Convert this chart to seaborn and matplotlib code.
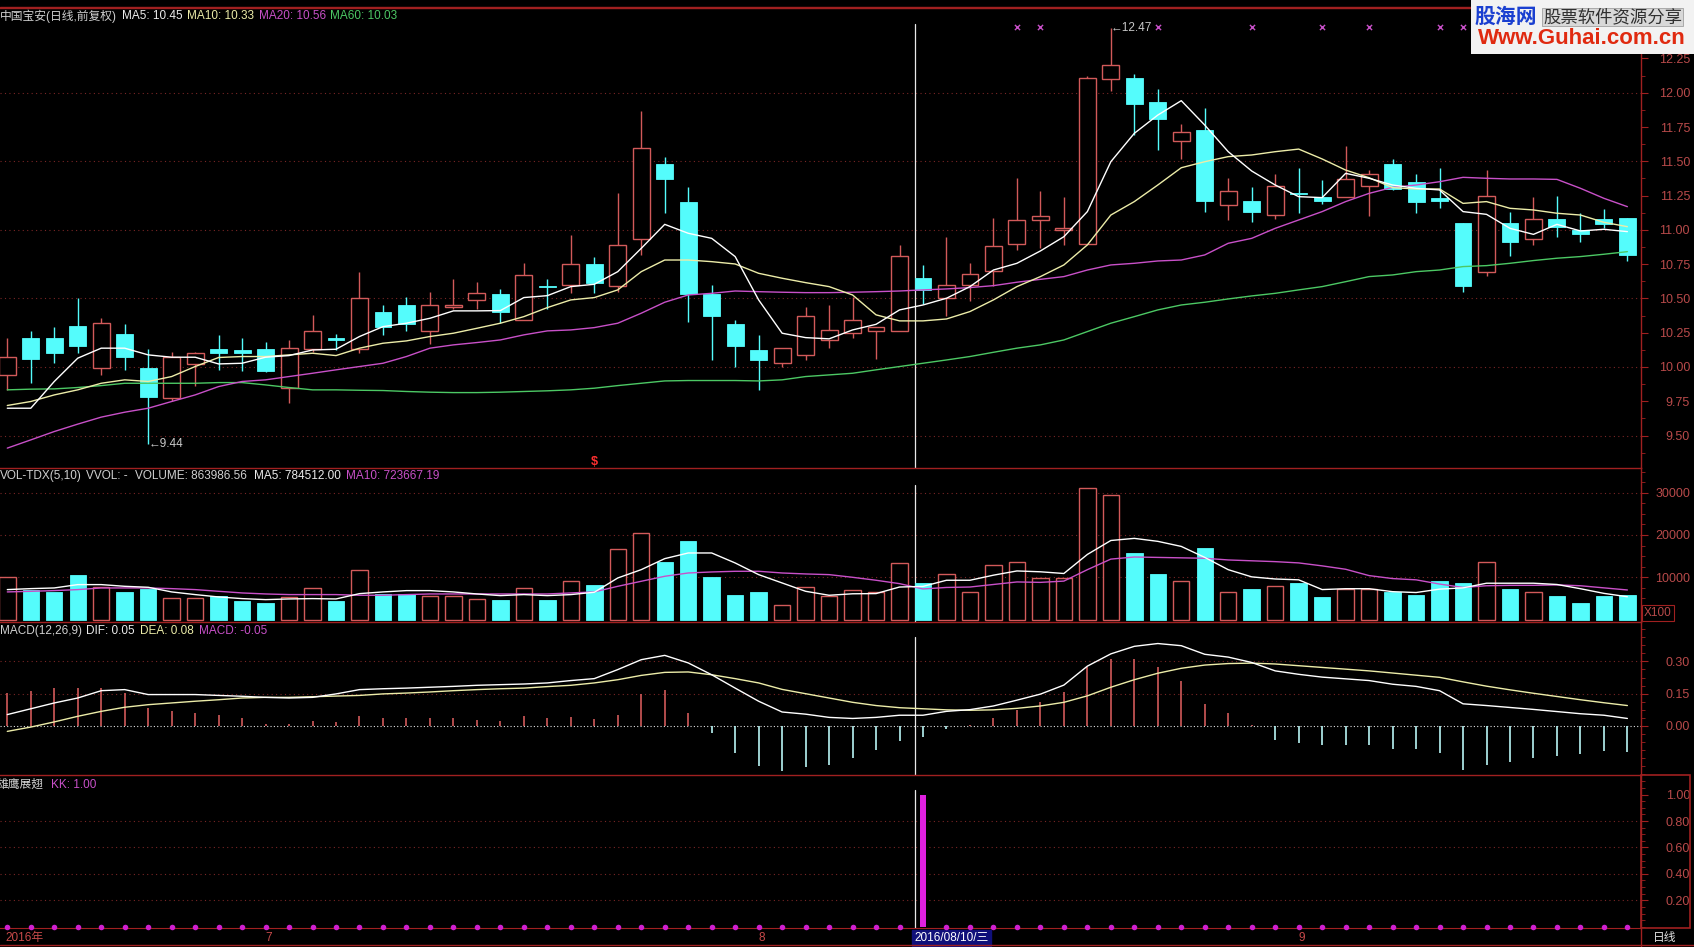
import matplotlib
matplotlib.use('Agg')
import matplotlib.pyplot as plt
import matplotlib.transforms as mtransforms
from matplotlib.patches import Rectangle
from matplotlib.lines import Line2D
from matplotlib.ticker import MultipleLocator
import numpy as np
import seaborn as sns

# ---- daily candles (中国宝安, 70 trading days) ----
opens = [9.94, 10.21, 10.21, 10.30, 9.99, 10.24, 9.99, 9.77, 10.02, 10.13,
         10.12, 10.13, 9.85, 10.13, 10.21, 10.13, 10.40, 10.45, 10.26, 10.44,
         10.49, 10.53, 10.34, 10.59, 10.60, 10.75, 10.59, 10.93, 11.48, 11.20,
         10.53, 10.31, 10.12, 10.03, 10.09, 10.20, 10.25, 10.26, 10.26, 10.65,
         10.50, 10.60, 10.70, 10.90, 11.07, 11.00, 10.90, 12.10, 12.11, 11.93,
         11.65, 11.73, 11.18, 11.21, 11.11, 11.27, 11.24, 11.24, 11.32, 11.48,
         11.35, 11.23, 11.05, 10.69, 11.05, 10.93, 11.08, 11.00, 11.08, 11.09]
highs = [10.21, 10.26, 10.29, 10.50, 10.36, 10.31, 10.13, 10.11, 10.11, 10.23,
         10.21, 10.18, 10.20, 10.38, 10.24, 10.69, 10.45, 10.51, 10.55, 10.64,
         10.62, 10.57, 10.76, 10.64, 10.96, 10.80, 11.27, 11.87, 11.53, 11.31,
         10.60, 10.34, 10.23, 10.14, 10.44, 10.45, 10.51, 10.29, 10.89, 10.74,
         10.95, 10.76, 11.09, 11.38, 11.28, 11.24, 12.12, 12.47, 12.14, 12.03,
         11.77, 11.89, 11.38, 11.31, 11.41, 11.45, 11.36, 11.61, 11.44, 11.52,
         11.41, 11.45, 11.05, 11.44, 11.13, 11.24, 11.25, 11.12, 11.15, 11.09]
lows = [9.83, 9.88, 10.03, 10.10, 9.94, 9.98, 9.44, 9.75, 9.86, 9.98,
        9.97, 9.96, 9.74, 10.11, 10.12, 10.10, 10.23, 10.26, 10.17, 10.42,
        10.42, 10.32, 10.34, 10.42, 10.54, 10.54, 10.55, 10.82, 11.12, 10.33,
        10.05, 10.00, 9.83, 10.00, 10.05, 10.14, 10.21, 10.06, 10.26, 10.46,
        10.37, 10.48, 10.59, 10.85, 10.87, 10.89, 10.90, 12.01, 11.69, 11.58,
        11.52, 11.13, 11.07, 11.06, 11.08, 11.12, 11.19, 11.24, 11.10, 11.29,
        11.12, 11.16, 10.55, 10.66, 10.81, 10.89, 10.95, 10.91, 11.01, 10.77]
closes = [10.07, 10.06, 10.10, 10.15, 10.32, 10.07, 9.78, 10.07, 10.10, 10.10,
          10.10, 9.97, 10.14, 10.26, 10.20, 10.50, 10.29, 10.31, 10.45, 10.45,
          10.54, 10.40, 10.67, 10.58, 10.75, 10.61, 10.89, 11.60, 11.37, 10.53,
          10.37, 10.15, 10.05, 10.14, 10.37, 10.27, 10.34, 10.29, 10.81, 10.56,
          10.60, 10.68, 10.88, 11.07, 11.10, 11.01, 12.11, 12.20, 11.92, 11.81,
          11.71, 11.21, 11.28, 11.13, 11.32, 11.26, 11.21, 11.37, 11.41, 11.30,
          11.20, 11.21, 10.59, 11.25, 10.91, 11.08, 11.02, 10.97, 11.04, 10.82]

ma5 = [9.699, 9.699, 9.894, 10.064, 10.137, 10.137, 10.088, 10.071, 10.071, 10.022,
       10.027, 10.071, 10.083, 10.124, 10.129, 10.222, 10.294, 10.319, 10.355, 10.409,
       10.409, 10.411, 10.506, 10.520, 10.586, 10.603, 10.695, 10.865, 11.040, 10.975,
       10.938, 10.805, 10.489, 10.246, 10.214, 10.205, 10.270, 10.311, 10.416, 10.452,
       10.501, 10.586, 10.707, 10.756, 10.846, 10.950, 11.133, 11.497, 11.704, 11.837,
       11.942, 11.764, 11.570, 11.429, 11.327, 11.242, 11.235, 11.412, 11.376, 11.327,
       11.303, 11.291, 11.133, 11.113, 11.011, 10.967, 11.040, 10.992, 11.004, 10.987]
ma10 = [9.719, 9.748, 9.796, 9.833, 9.881, 9.906, 9.894, 9.930, 10.003, 10.069,
        10.076, 10.076, 10.088, 10.100, 10.083, 10.137, 10.173, 10.190, 10.222, 10.246,
        10.282, 10.319, 10.367, 10.433, 10.489, 10.506, 10.562, 10.695, 10.780, 10.780,
        10.768, 10.751, 10.683, 10.647, 10.615, 10.586, 10.525, 10.380, 10.336, 10.336,
        10.350, 10.404, 10.489, 10.586, 10.659, 10.744, 10.890, 11.108, 11.206, 11.327,
        11.453, 11.497, 11.534, 11.546, 11.570, 11.589, 11.517, 11.436, 11.380, 11.308,
        11.298, 11.298, 11.193, 11.206, 11.157, 11.145, 11.121, 11.108, 11.055, 11.023]
ma20 = [9.408, 9.468, 9.529, 9.583, 9.634, 9.670, 9.699, 9.748, 9.796, 9.857,
        9.894, 9.906, 9.930, 9.954, 9.979, 10.003, 10.027, 10.076, 10.137, 10.161,
        10.178, 10.197, 10.234, 10.263, 10.270, 10.287, 10.319, 10.392, 10.472, 10.525,
        10.537, 10.554, 10.549, 10.545, 10.542, 10.542, 10.545, 10.549, 10.554, 10.562,
        10.569, 10.579, 10.593, 10.618, 10.639, 10.659, 10.707, 10.744, 10.756, 10.773,
        10.780, 10.817, 10.902, 10.938, 11.011, 11.072, 11.133, 11.206, 11.266, 11.310,
        11.327, 11.351, 11.383, 11.376, 11.371, 11.371, 11.368, 11.303, 11.230, 11.169]
ma60 = [9.833, 9.838, 9.840, 9.850, 9.864, 9.881, 9.881, 9.881, 9.881, 9.886,
        9.886, 9.869, 9.850, 9.833, 9.833, 9.830, 9.828, 9.821, 9.816, 9.813,
        9.813, 9.816, 9.821, 9.826, 9.833, 9.845, 9.864, 9.881, 9.898, 9.901,
        9.901, 9.901, 9.898, 9.906, 9.930, 9.942, 9.954, 9.979, 10.003, 10.027,
        10.051, 10.076, 10.107, 10.137, 10.161, 10.197, 10.258, 10.319, 10.367, 10.416,
        10.452, 10.472, 10.496, 10.518, 10.537, 10.562, 10.586, 10.622, 10.659, 10.671,
        10.695, 10.707, 10.732, 10.739, 10.756, 10.776, 10.793, 10.805, 10.822, 10.841]

# ---- volume (x100 shares) ----
volume = [10100, 7090, 6460, 10550, 7720, 6540, 7320, 5120, 5120, 5510,
          4490, 3940, 5350, 7480, 4490, 11650, 6060, 6060, 5670, 5670,
          4880, 4650, 7480, 4650, 9060, 8270, 16690, 20390, 13620, 18580,
          10080, 5830, 6540, 3390, 7720, 5670, 7020, 6500, 13400, 8640,
          10860, 6500, 12900, 13670, 9830, 9830, 31030, 29500, 15710, 10860,
          9070, 16990, 6510, 7280, 8050, 8560, 5240, 7280, 7280, 6510,
          5750, 9070, 8560, 13670, 7280, 6510, 5490, 3960, 5490, 5750]
vol_ma5 = [7090, 7320, 7480, 8270, 8270, 7870, 7640, 6540, 5910, 5350,
           4960, 4720, 4880, 4960, 4880, 6140, 6540, 6850, 6850, 6540,
           6060, 5670, 5910, 5670, 5910, 6460, 9840, 11810, 14410, 15750,
           15750, 13390, 10630, 8660, 6690, 5750, 6100, 6150, 7700, 7845,
           9300, 9300, 10500, 11500, 11300, 10900, 15400, 18700, 19200, 18500,
           17300, 14700, 11800, 10100, 9600, 9400, 7100, 7300, 7300, 6600,
           6400, 7200, 7500, 8600, 8600, 8600, 8300, 7300, 6200, 5400]
vol_ma10 = [6540, 6690, 6850, 7090, 7480, 7480, 7480, 7320, 7090, 6690,
            6300, 6060, 5910, 5910, 5910, 5750, 5750, 5910, 6060, 6060,
            6060, 6060, 6060, 6060, 6300, 6540, 7870, 9060, 10240, 11020,
            11260, 11420, 11420, 11020, 10790, 10630, 10000, 9300, 8500, 7237,
            7600, 7700, 8300, 8900, 8800, 9100, 11800, 14300, 14800, 14700,
            14600, 14500, 14100, 13900, 13700, 13400, 12700, 11900, 10400, 9700,
            9400, 8400, 7600, 8000, 8100, 8100, 8200, 8000, 7500, 7000]

# ---- MACD(12,26,9) ----
dif = [0.053, 0.080, 0.107, 0.130, 0.164, 0.169, 0.146, 0.146, 0.146, 0.142,
       0.138, 0.133, 0.130, 0.133, 0.149, 0.169, 0.173, 0.176, 0.180, 0.184,
       0.189, 0.192, 0.195, 0.200, 0.211, 0.220, 0.262, 0.308, 0.328, 0.293,
       0.238, 0.176, 0.115, 0.065, 0.055, 0.040, 0.035, 0.040, 0.050, 0.050,
       0.068, 0.076, 0.093, 0.120, 0.148, 0.190, 0.278, 0.335, 0.370, 0.383,
       0.373, 0.333, 0.320, 0.295, 0.256, 0.240, 0.227, 0.219, 0.211, 0.194,
       0.184, 0.164, 0.103, 0.095, 0.086, 0.077, 0.067, 0.057, 0.050, 0.035]
dea = [-0.025, -0.005, 0.019, 0.045, 0.068, 0.087, 0.099, 0.107, 0.115, 0.122,
       0.130, 0.133, 0.133, 0.136, 0.139, 0.142, 0.149, 0.153, 0.158, 0.164,
       0.169, 0.173, 0.176, 0.183, 0.189, 0.200, 0.215, 0.235, 0.249, 0.251,
       0.238, 0.220, 0.200, 0.170, 0.150, 0.130, 0.110, 0.095, 0.085, 0.080,
       0.075, 0.073, 0.075, 0.082, 0.093, 0.110, 0.140, 0.180, 0.215, 0.245,
       0.268, 0.283, 0.290, 0.292, 0.288, 0.280, 0.272, 0.264, 0.256, 0.246,
       0.236, 0.226, 0.205, 0.185, 0.168, 0.152, 0.137, 0.122, 0.108, 0.095]
macd = [0.153, 0.164, 0.176, 0.176, 0.176, 0.153, 0.084, 0.071, 0.060, 0.053,
        0.037, 0.009, 0.009, 0.022, 0.019, 0.045, 0.037, 0.037, 0.037, 0.037,
        0.029, 0.022, 0.045, 0.037, 0.040, 0.034, 0.053, 0.149, 0.169, 0.060,
        -0.033, -0.125, -0.187, -0.211, -0.190, -0.180, -0.150, -0.110, -0.070, -0.050,
        -0.015, 0.005, 0.035, 0.075, 0.110, 0.160, 0.276, 0.310, 0.310, 0.276,
        0.210, 0.100, 0.060, 0.005, -0.065, -0.080, -0.090, -0.090, -0.090, -0.105,
        -0.105, -0.125, -0.205, -0.180, -0.165, -0.150, -0.140, -0.130, -0.115, -0.120]

# ---- 雄鹰展翅 signal ----
kk = [0, 0, 0, 0, 0, 0, 0, 0, 0, 0,
      0, 0, 0, 0, 0, 0, 0, 0, 0, 0,
      0, 0, 0, 0, 0, 0, 0, 0, 0, 0,
      0, 0, 0, 0, 0, 0, 0, 0, 0, 1,
      0, 0, 0, 0, 0, 0, 0, 0, 0, 0,
      0, 0, 0, 0, 0, 0, 0, 0, 0, 0,
      0, 0, 0, 0, 0, 0, 0, 0, 0, 0]

cross_idx = [43, 44, 49, 53, 56, 58, 61, 62]
cross_price = [12.48, 12.48, 12.48, 12.48, 12.48, 12.48, 12.48, 12.48]

month_labels = ['2016年', '7', '8', '9']
month_idx = [-0.1, 11, 32, 55]
cursor_idx = 39
cursor_label = '2016/08/10/三'

# ---- colours ----
RED = '#d25a5a'
CYAN = '#54fcfc'
AXIS_RED = '#a02020'
GRID_RED = '#7a2626'
LABEL_RED = '#b84a4a'
MAG = '#c850c8'
TXT = '#d0d0d0'
YEL = '#ececa8'
GRN = '#4cc864'

sns.set_style('dark', {'axes.facecolor': 'black', 'figure.facecolor': 'black'})
plt.rcParams['font.family'] = ['Liberation Sans', 'Noto Sans CJK SC', 'DejaVu Sans']

W, H = 1694, 947
fig = plt.figure(figsize=(W / 100, H / 100), dpi=100, facecolor='black')


def fx(px):
    return px / W


def fy(py):
    return 1 - py / H


def panel(top, bottom):
    return fig.add_axes([0, fy(bottom), fx(1641), (bottom - top) / H])


XLIM = (-0.311, 69.58)
DOT = (0, (1, 3))


def style(ax, ylim, ticks, fmt, minor, grid):
    ax.set_facecolor('black')
    ax.set_xlim(*XLIM)
    ax.set_ylim(*ylim)
    ax.set_xticks([])
    ax.set_xlabel('')
    ax.set_ylabel('')
    ax.grid(False)
    ax.yaxis.tick_right()
    ax.set_yticks(ticks)
    ax.set_yticklabels([fmt.format(t) for t in ticks])
    ax.yaxis.set_minor_locator(MultipleLocator(minor))
    ax.tick_params(axis='y', which='major', colors=AXIS_RED, labelcolor=LABEL_RED,
                   length=5, width=0.8, pad=30.3, labelsize=9)
    ax.tick_params(axis='y', which='minor', colors=AXIS_RED, length=3, width=0.6)
    for lab in ax.yaxis.get_majorticklabels():
        lab.set_horizontalalignment('right')
    for s in ['left', 'bottom']:
        ax.spines[s].set_visible(False)
    for s in ['top', 'right']:
        ax.spines[s].set_visible(True)
        ax.spines[s].set_color(AXIS_RED)
        ax.spines[s].set_linewidth(1.0)
    for g in grid:
        ax.axhline(g, color=GRID_RED, ls=DOT, lw=0.8, zorder=0)


idx = np.arange(len(closes))
o = np.array(opens)
c = np.array(closes)
hi = np.array(highs)
lo = np.array(lows)
up = c >= o
body_lo = np.minimum(o, c)
body_h = np.maximum(np.abs(c - o), 0.008)

# ================= main candle panel =================
ax_k = panel(8, 468)
style(ax_k, (9.263, 12.618), np.arange(9.5, 12.26, 0.25), '{:.2f}', 0.125,
      [9.5, 10.0, 10.5, 11.0, 11.5, 12.0])
ax_k.vlines(idx[up], lo[up], hi[up], color=RED, lw=1, zorder=2)
ax_k.vlines(idx[~up], lo[~up], hi[~up], color=CYAN, lw=1, zorder=2)
ax_k.bar(idx[up], body_h[up], bottom=body_lo[up], width=0.72, facecolor='black',
         edgecolor=RED, linewidth=1, zorder=3)
ax_k.bar(idx[~up], body_h[~up], bottom=body_lo[~up], width=0.72, facecolor=CYAN,
         edgecolor=CYAN, linewidth=0.6, zorder=3)
sns.lineplot(x=idx, y=ma60, ax=ax_k, color=GRN, linewidth=1, zorder=4)
sns.lineplot(x=idx, y=ma20, ax=ax_k, color=MAG, linewidth=1, zorder=4)
sns.lineplot(x=idx, y=ma10, ax=ax_k, color=YEL, linewidth=1, zorder=5)
sns.lineplot(x=idx, y=ma5, ax=ax_k, color='white', linewidth=1, zorder=5)
sns.scatterplot(x=cross_idx, y=cross_price, ax=ax_k, marker='x', color=MAG, s=14,
                linewidth=1, zorder=5)
ax_k.set_xlabel('')
ax_k.set_ylabel('')

i_hi = int(np.argmax(hi))
i_lo = int(np.argmin(lo))
ax_k.text(i_hi, hi[i_hi], '←{:.2f}'.format(hi[i_hi]), color='#c8c8c8', fontsize=8.5,
          ha='left', va='center', zorder=6)
ax_k.text(i_lo, lo[i_lo], '←{:.2f}'.format(lo[i_lo]), color='#c8c8c8', fontsize=8.5,
          ha='left', va='center', zorder=6)
ax_k.text(25, 9.31, '$', color='#ff3030', fontsize=9, fontweight='bold',
          ha='center', va='center', zorder=6)

# ================= volume panel =================
ax_v = panel(468, 622)
style(ax_v, (-570, 35840), [10000, 20000, 30000], '{:.0f}', 2500,
      [10000, 20000, 30000])
vol = np.array(volume)
ax_v.bar(idx[up], vol[up], width=0.7, facecolor='black', edgecolor=RED,
         linewidth=1, zorder=3)
ax_v.bar(idx[~up], vol[~up], width=0.7, facecolor=CYAN, edgecolor=CYAN,
         linewidth=0.6, zorder=3)
sns.lineplot(x=idx, y=vol_ma10, ax=ax_v, color=MAG, linewidth=1, zorder=4)
sns.lineplot(x=idx, y=vol_ma5, ax=ax_v, color='white', linewidth=1, zorder=5)
ax_v.set_xlabel('')
ax_v.set_ylabel('')

# ================= MACD panel =================
ax_m = panel(622, 775)
style(ax_m, (-0.2276, 0.483), [0.0, 0.15, 0.30], '{:.2f}', 0.0375, [0.15, 0.30])
ax_m.axhline(0, color='#e0e0e0', ls=(0, (1, 2)), lw=0.8, zorder=1)
mv = np.array(macd)
ax_m.vlines(idx, 0, mv, colors=[RED if v > 0 else '#b8f4f4' for v in mv],
            lw=1.2, zorder=3)
sns.lineplot(x=idx, y=dea, ax=ax_m, color=YEL, linewidth=1, zorder=4)
sns.lineplot(x=idx, y=dif, ax=ax_m, color='white', linewidth=1, zorder=5)
ax_m.set_xlabel('')
ax_m.set_ylabel('')

# ================= 雄鹰展翅 panel =================
ax_kk = panel(775, 928)
style(ax_kk, (-0.0098, 1.149), [0.2, 0.4, 0.6, 0.8, 1.0], '{:.2f}', 0.05,
      [0.2, 0.4, 0.6, 0.8])
ax_kk.spines['bottom'].set_visible(True)
ax_kk.spines['bottom'].set_color(AXIS_RED)
kk_arr = np.array(kk, dtype=float)
ax_kk.bar(idx, kk_arr, width=0.25, color='#e020e0', edgecolor='#e020e0',
          linewidth=0, zorder=3)
sns.scatterplot(x=idx[kk_arr == 0], y=kk_arr[kk_arr == 0], ax=ax_kk, color='#d020d0',
                s=16, linewidth=0, zorder=4, clip_on=False)
ax_kk.set_xlabel('')
ax_kk.set_ylabel('')

# cursor line through all panels
for ax, ymax in [(ax_k, 0.965), (ax_v, 0.89), (ax_m, 0.90), (ax_kk, 0.90)]:
    ax.axvline(cursor_idx - 0.36, ymin=0, ymax=ymax, color='#e8e8e8', lw=0.9, zorder=2)

# ---- panel headers ----
def header(y, parts):
    for x, s, col in parts:
        fig.text(fx(x), fy(y), s, color=col, fontsize=8.5, ha='left', va='center')


header(16, [(0, '中国宝安(日线,前复权)', TXT), (122, 'MA5: 10.45', '#ececec'),
            (187, 'MA10: 10.33', YEL), (259, 'MA20: 10.56', MAG),
            (330, 'MA60: 10.03', GRN)])
header(476, [(0, 'VOL-TDX(5,10)', TXT), (86, 'VVOL: -', TXT),
             (135, 'VOLUME: 863986.56', TXT), (254, 'MA5: 784512.00', '#ececec'),
             (346, 'MA10: 723667.19', MAG)])
header(631, [(0, 'MACD(12,26,9)', TXT), (86, 'DIF: 0.05', '#ececec'),
             (140, 'DEA: 0.08', YEL), (199, 'MACD: -0.05', MAG)])
header(785, [(-3, '雄鹰展翅', TXT), (51, 'KK: 1.00', MAG)])

fig.text(fx(1658), fy(613), 'X100', color=LABEL_RED, fontsize=8.5, ha='center',
         va='center', bbox=dict(facecolor='black', edgecolor=AXIS_RED, pad=1.2, lw=0.8))

# right column frame of the bottom panel and x-axis row lines
fig.patches.append(Rectangle((fx(1641), fy(928)), fx(1690) - fx(1641), (928 - 775) / H,
                             transform=fig.transFigure, fill=False,
                             edgecolor=AXIS_RED, lw=1.2))
fig.lines.append(Line2D([0, 1], [fy(945), fy(945)], transform=fig.transFigure,
                        color=AXIS_RED, lw=1))
fig.lines.append(Line2D([fx(1641), fx(1641)], [fy(928), fy(947)],
                        transform=fig.transFigure, color=AXIS_RED, lw=1))
fig.lines.append(Line2D([0, 1], [fy(7), fy(7)], transform=fig.transFigure,
                        color=AXIS_RED, lw=1))

# ---- date axis row ----
trans = mtransforms.blended_transform_factory(ax_kk.transData, fig.transFigure)
for lab, i in zip(month_labels, month_idx):
    ax_kk.text(i, fy(938), lab, transform=trans, color='#c84a4a', fontsize=8.5,
               ha='left', va='center', clip_on=False)
ax_kk.text(cursor_idx - 0.36, fy(938), cursor_label, transform=trans, color='white',
           fontsize=8.5, ha='left', va='center', clip_on=False,
           bbox=dict(facecolor='#10107a', edgecolor='#10107a', pad=1.5))
fig.text(fx(1653), fy(938), '日线', color='#e0e0e0', fontsize=8.5, ha='left', va='center')

# ---- watermark ----
fig.patches.append(Rectangle((fx(1471), fy(54)), fx(1694) - fx(1471), 54 / H,
                             transform=fig.transFigure, facecolor='#f2f2f2',
                             edgecolor='none', zorder=10))
fig.text(fx(1474), fy(17), '股海网', color='#1a3fd0', fontsize=15, fontweight='bold',
         ha='left', va='center', zorder=11)
fig.text(fx(1543), fy(17), '股票软件资源分享', color='#303030', fontsize=12.5,
         ha='left', va='center', zorder=11,
         bbox=dict(facecolor='#d8d8d8', edgecolor='#a0a0a0', pad=0.8, lw=0.6))
fig.text(fx(1582), fy(39), 'Www.Guhai.com.cn', color='#e02a10', fontsize=16,
         fontweight='bold', ha='center', va='center', zorder=11)

fig.savefig('out.png', dpi=100, facecolor='black')
